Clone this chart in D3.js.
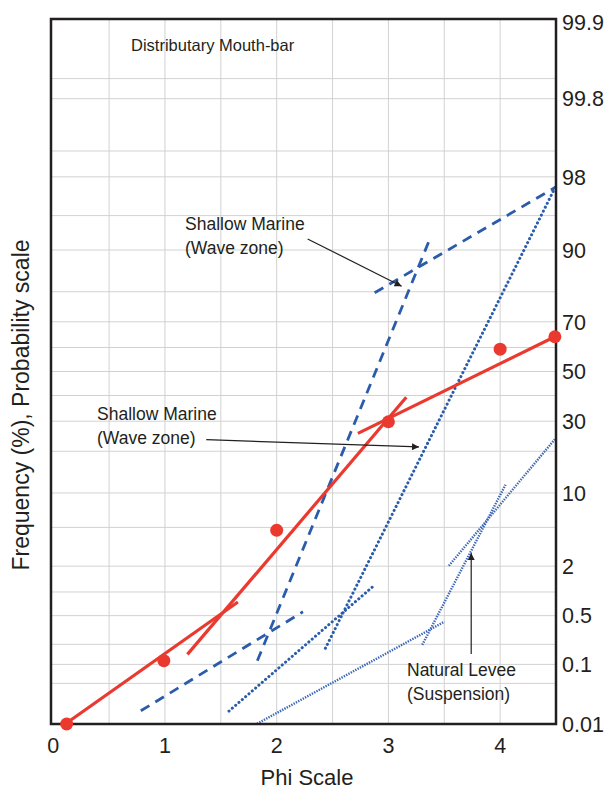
<!DOCTYPE html>
<html lang="en">
<head>
  <meta charset="UTF-8">
  <title>Distributary Mouth-bar - Probability plot</title>
  <script src="https://d3js.org/d3.v7.min.js"></script>
  <style>
    body {
      margin: 0;
      background: #fff;
      font-family: "Liberation Sans", Arial, sans-serif;
    }
    .grid line {
      stroke: #d2d2d2;
      stroke-width: 1;
    }
    .tick-label {
      font-size: 21.5px;
      fill: #231f20;
    }
    .note {
      font-size: 17.5px;
      fill: #231f20;
    }
    .fit {
      fill: none;
    }
  </style>
</head>
<body>
  <svg id="chart" width="607" height="792"></svg>

  <script>
    // ---- data (phi, cumulative percent) ----
    const phiTicks = [0, 1, 2, 3, 4];
    const phiGrid = [0.5, 1, 1.5, 2, 2.5, 3, 3.5, 4];
    const probTicks = [99.99, 99.8, 98, 90, 70, 50, 30, 10, 2, 0.5, 0.1, 0.01];
    const probTickLabels = ["99.9", "99.8", "98", "90", "70", "50", "30", "10", "2", "0.5", "0.1", "0.01"];
    const probGrid = [0.05, 0.1, 0.2, 0.5, 1, 2, 5, 10, 20, 30, 40, 50, 60, 70, 80, 90, 95, 98, 99, 99.8, 99.9];

    // Distributary mouth-bar sample
    const samplePhi = [0.12, 0.99, 2.0, 3.0, 4.0, 4.49];
    const samplePct = [0.01, 0.114, 4.7, 29.8, 59.3, 64.3];

    // straight-line segments fitted to the sample
    const mouthBarFits = [
      [[0.12, 0.0104], [1.653, 0.75]],
      [[1.201, 0.142], [3.16, 39.3]],
      [[2.727, 25.7], [4.489, 64.3]]
    ];
    // shallow marine (wave zone) envelopes
    const shallowDashed = [
      [[0.784, 0.0172], [2.235, 0.562]],
      [[1.827, 0.114], [3.362, 91.5]],
      [[2.877, 79.7], [4.495, 97.4]]
    ];
    const shallowDotted = [
      [[1.573, 0.017], [2.876, 1.21]],
      [[2.436, 0.175], [4.493, 97.4]]
    ];
    // natural levee (suspension)
    const leveeDotted = [
      [[1.824, 0.0101], [3.502, 0.415]],
      [[3.303, 0.196], [4.048, 11.6]],
      [[3.541, 2.02], [4.489, 23.7]]
    ];

    // annotation arrows: [from, to] in (phi, percent)
    const arrows = [
      [[2.277, 91.9], [3.118, 81.6]],
      [[1.370, 23.6], [3.274, 21.3]],
      [[3.741, 0.144], [3.741, 2.77]]
    ];

    // inverse normal CDF (Acklam)
    function probit(p) {
      const a = [-3.969683028665376e+01, 2.209460984245205e+02, -2.759285104469687e+02, 1.383577518672690e+02, -3.066479806614716e+01, 2.506628277459239e+00];
      const b = [-5.447609879822406e+01, 1.615858368580409e+02, -1.556989798598866e+02, 6.680131188771972e+01, -1.328068155288572e+01];
      const c = [-7.784894002430293e-03, -3.223964580411365e-01, -2.400758277161838e+00, -2.549732539343734e+00, 4.374664141464968e+00, 2.938163982698783e+00];
      const d = [7.784695709041462e-03, 3.224671290700398e-01, 2.445134137142996e+00, 3.754408661907416e+00];
      const pl = 0.02425;
      if (p < pl) {
        const q = Math.sqrt(-2 * Math.log(p));
        return (((((c[0]*q + c[1])*q + c[2])*q + c[3])*q + c[4])*q + c[5]) / ((((d[0]*q + d[1])*q + d[2])*q + d[3])*q + 1);
      }
      if (p <= 1 - pl) {
        const q = p - 0.5, r = q * q;
        return (((((a[0]*r + a[1])*r + a[2])*r + a[3])*r + a[4])*r + a[5])*q / (((((b[0]*r + b[1])*r + b[2])*r + b[3])*r + b[4])*r + 1);
      }
      const q = Math.sqrt(-2 * Math.log(1 - p));
      return -(((((c[0]*q + c[1])*q + c[2])*q + c[3])*q + c[4])*q + c[5]) / ((((d[0]*q + d[1])*q + d[2])*q + d[3])*q + 1);
    }

    const box = {left: 51, right: 556, top: 19, bottom: 724};

    const x = d3.scaleLinear()
      .domain([-0.02, 4.5])
      .range([box.left, box.right]);

    const z = d3.scaleLinear()
      .domain([probit(0.0001), probit(0.9999)])
      .range([box.bottom, box.top]);
    const y = pct => z(probit(pct / 100));

    const svg = d3.select("#chart");

    const red = "#ea3a2f";
    const blue = "#2b5cab";

    svg.append("defs").append("marker")
      .attr("id", "arrow")
      .attr("viewBox", "0 0 10 10")
      .attr("refX", 10)
      .attr("refY", 5)
      .attr("markerWidth", 9)
      .attr("markerHeight", 7)
      .attr("markerUnits", "userSpaceOnUse")
      .attr("orient", "auto")
      .append("path")
      .attr("d", "M0,0 L10,5 L0,10 z")
      .attr("fill", "#231f20");

    // gridlines
    const grid = svg.append("g").attr("class", "grid");
    grid.selectAll(".vx")
      .data(phiGrid)
      .join("line")
      .attr("x1", d => x(d)).attr("x2", d => x(d))
      .attr("y1", box.top).attr("y2", box.bottom);
    grid.selectAll(".hy")
      .data(probGrid)
      .join("line")
      .attr("class", "hy")
      .attr("x1", box.left).attr("x2", box.right)
      .attr("y1", d => y(d)).attr("y2", d => y(d));

    const line = d3.line()
      .x(d => x(d[0]))
      .y(d => y(d[1]));

    // line groups
    function drawSegs(data, stroke, width, dash, cap) {
      svg.append("g")
        .selectAll("path")
        .data(data)
        .join("path")
        .attr("class", "fit")
        .attr("d", line)
        .attr("stroke", stroke)
        .attr("stroke-width", width)
        .attr("stroke-dasharray", dash)
        .attr("stroke-linecap", cap);
    }

    drawSegs(leveeDotted, "#3a66b8", 2.4, "1.4,1.2", "butt");
    drawSegs(shallowDotted, blue, 3, "0.1,4.3", "round");
    drawSegs(shallowDashed, blue, 2.8, "10,7", "butt");
    drawSegs(mouthBarFits, red, 3.2, null, "butt");

    // plot frame
    svg.append("rect")
      .attr("x", box.left)
      .attr("y", box.top)
      .attr("width", box.right - box.left)
      .attr("height", box.bottom - box.top)
      .attr("fill", "none")
      .attr("stroke", "#231f20")
      .attr("stroke-width", 2.5);

    // sample points
    svg.append("g")
      .selectAll("circle")
      .data(samplePhi)
      .join("circle")
      .attr("cx", d => x(d))
      .attr("cy", (d, i) => y(samplePct[i]))
      .attr("r", 6.5)
      .attr("fill", red);

    // right-hand probability axis labels
    svg.append("g")
      .selectAll("text")
      .data(probTicks)
      .join("text")
      .attr("class", "tick-label")
      .attr("x", box.right + 6)
      .attr("y", (d, i) => i === 0 ? y(d) + 3 : y(d))
      .attr("dy", "0.36em")
      .text((d, i) => probTickLabels[i]);

    // phi axis labels
    svg.append("g")
      .selectAll("text")
      .data(phiTicks)
      .join("text")
      .attr("class", "tick-label")
      .attr("x", d => x(d))
      .attr("y", box.bottom + 29)
      .attr("text-anchor", "middle")
      .text(d => d);

    svg.append("text")
      .attr("x", 307)
      .attr("y", 785)
      .attr("text-anchor", "middle")
      .style("font-size", "22px")
      .style("fill", "#231f20")
      .text("Phi Scale");

    svg.append("text")
      .attr("transform", "translate(29,405) rotate(-90)")
      .attr("text-anchor", "middle")
      .style("font-size", "23px")
      .style("fill", "#231f20")
      .text("Frequency (%), Probability scale");

    svg.append("text")
      .attr("class", "note")
      .attr("x", 131)
      .attr("y", 51)
      .style("font-size", "16.5px")
      .text("Distributary Mouth-bar");

    // annotations
    const notes = [
      {x: 185, y: 230, lines: ["Shallow Marine", "(Wave zone)"]},
      {x: 97, y: 420, lines: ["Shallow Marine", "(Wave zone)"]},
      {x: 407, y: 676, lines: ["Natural Levee", "(Suspension)"]}
    ];
    notes.forEach(n => {
      const t = svg.append("text").attr("class", "note");
      n.lines.forEach((s, i) => {
        t.append("tspan")
          .attr("x", n.x)
          .attr("y", n.y + i * 24)
          .text(s);
      });
    });

    svg.append("g")
      .selectAll("path")
      .data(arrows)
      .join("path")
      .attr("d", line)
      .attr("stroke", "#231f20")
      .attr("stroke-width", 1.2)
      .attr("fill", "none")
      .attr("marker-end", "url(#arrow)");
  </script>
</body>
</html>
